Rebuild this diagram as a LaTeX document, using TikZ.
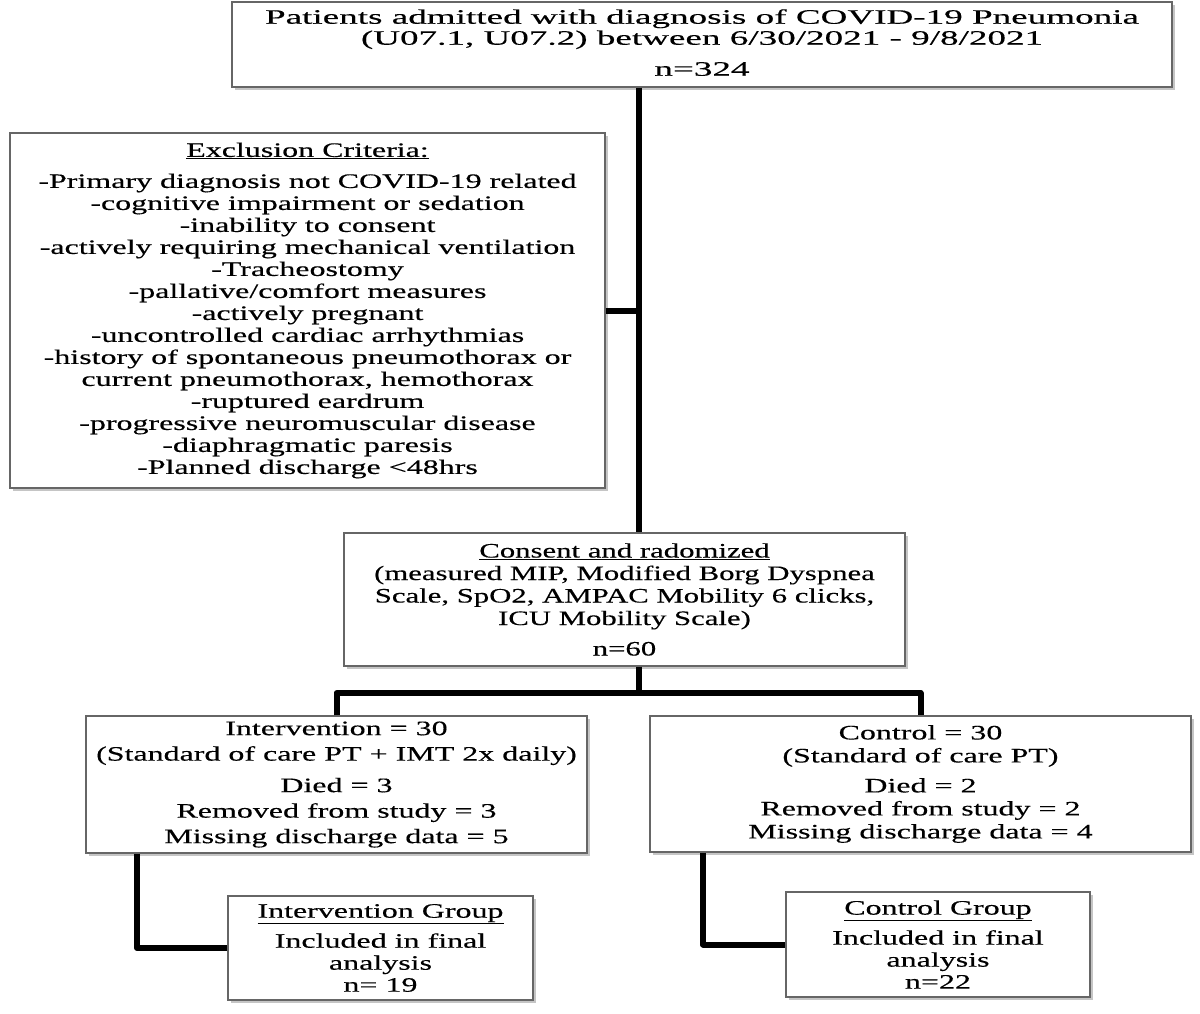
\documentclass[tikz,border=0pt]{standalone}
\usepackage{fontspec}
\setmainfont{Liberation Serif}[FakeStretch=1.56,FakeBold=0.35]
\newfontfamily\topfont{Liberation Serif}[FakeStretch=1.81,FakeBold=0.35]
\newfontfamily\consfont{Liberation Serif}[FakeStretch=1.5,FakeBold=0.35]
\usetikzlibrary{shadows}
\begin{document}
\begin{tikzpicture}[x=1pt,y=-1pt,
  box/.style={draw=black!60, line width=1.4pt, fill=white, inner sep=0pt, align=center,
    drop shadow={shadow xshift=2.5pt, shadow yshift=-3pt, fill=black!45, opacity=0.5}},
  conn/.style={draw=black, line width=6pt, line join=round},
  txt/.style={font=\fontsize{20.5}{#1}\selectfont},
  txt/.default=22]
\useasboundingbox (0,0) rectangle (1200,1013);
\fill[white] (0,0) rectangle (1200,1013);

\node[box, minimum width=940pt, minimum height=85pt, font=\topfont\fontsize{20.5}{21}\selectfont] (top) at (702,44.5)
  {Patients admitted with diagnosis of COVID-19 Pneumonia\\(U07.1, U07.2) between 6/30/2021 - 9/8/2021\\[10pt]n=324\rule[-4pt]{0pt}{0pt}};

\node[box, minimum width=595pt, minimum height=355pt, txt] (excl) at (307.5,310.5)
  {\underline{Exclusion Criteria:}\\[9pt]
   -Primary diagnosis not COVID-19 related\\
   -cognitive impairment or sedation\\
   -inability to consent\\
   -actively requiring mechanical ventilation\\
   -Tracheostomy\\
   -pallative/comfort measures\\
   -actively pregnant\\
   -uncontrolled cardiac arrhythmias\\
   -history of spontaneous pneumothorax or\\
   current pneumothorax, hemothorax\\
   -ruptured eardrum\\
   -progressive neuromuscular disease\\
   -diaphragmatic paresis\\
   -Planned discharge <48hrs};

\node[box, minimum width=561pt, minimum height=133pt, font=\consfont\fontsize{20.5}{22.5}\selectfont] (consent) at (624.5,599.5)
  {\underline{Consent and radomized}\\(measured MIP, Modified Borg Dyspnea\\Scale, SpO2, AMPAC Mobility 6 clicks,\\ICU Mobility Scale)\\[8pt]n=60};

\node[box, minimum width=501pt, minimum height=137pt, txt=25.5] (interv) at (336.5,784.5)
  {Intervention = 30\\(Standard of care PT + IMT 2x daily)\\[6pt]Died = 3\\Removed from study = 3\\Missing discharge data = 5};

\node[box, minimum width=541pt, minimum height=136pt, txt=23] (ctrl) at (920.5,784)
  {Control = 30\\(Standard of care PT)\\[7pt]Died = 2\\Removed from study = 2\\Missing discharge data = 4};

\node[box, minimum width=305pt, minimum height=104pt, txt] (igroup) at (380.5,948)
  {\underline{Intervention Group}\\[8pt]Included in final\\analysis\\n= 19};

\node[box, minimum width=304pt, minimum height=105pt, txt] (cgroup) at (938,944.5)
  {\underline{Control Group}\\[8pt]Included in final\\analysis\\n=22};

\coordinate (trunk) at (638.5,0);
\coordinate (bar) at (0,693);
\coordinate (ci) at (137,947);
\coordinate (cc) at (703,945);

\draw[conn] (top.south -| trunk) -- (consent.north -| trunk);
\draw[conn] (excl.east) -- (excl.east -| trunk);
\draw[conn] (consent.south -| trunk) -- (trunk |- bar);
\draw[conn] (interv.north) -- (interv.north |- bar) -- (ctrl.north |- bar) -- (ctrl.north);
\draw[conn] (interv.south -| ci) |- (igroup.west);
\draw[conn] (ctrl.south -| cc) |- (cgroup.west);
\end{tikzpicture}
\end{document}
